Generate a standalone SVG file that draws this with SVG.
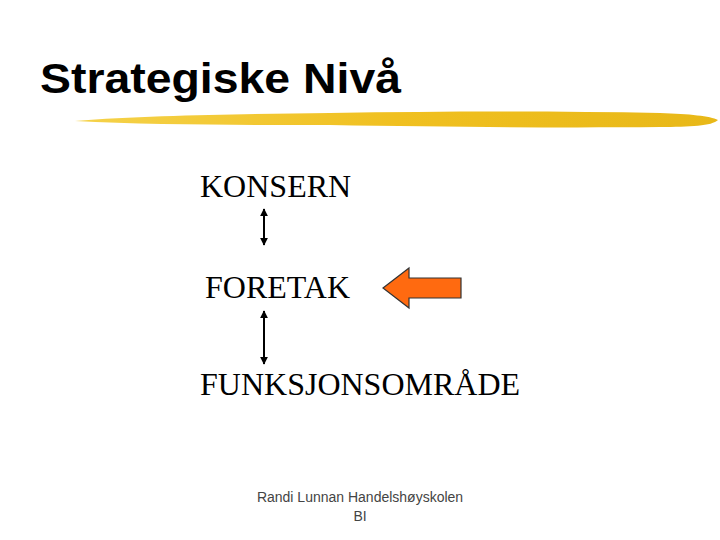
<svg xmlns="http://www.w3.org/2000/svg" width="720" height="540" viewBox="0 0 720 540">
<defs>
<style>
.title{font-family:"Liberation Sans",Arial,sans-serif;font-weight:bold;font-size:42px;fill:#000}
.node{font-family:"Liberation Serif","Times New Roman",serif;font-size:32px;fill:#000}
.foot{font-family:"Liberation Sans",Arial,sans-serif;font-size:14px;fill:#444}
.conn{stroke:#000;stroke-width:2;fill:none;marker-start:url(#ah);marker-end:url(#ah)}
</style>
<marker id="ah" viewBox="0 0 10 10" refX="9" refY="5" markerWidth="4" markerHeight="4" orient="auto-start-reverse">
<path d="M0,0 L10,5 L0,10 z" fill="#000"/>
</marker>
<linearGradient id="brush" x1="0" y1="0" x2="1" y2="0">
<stop offset="0" stop-color="#f5d24a"/>
<stop offset="0.5" stop-color="#f0c020"/>
<stop offset="1" stop-color="#e8b818"/>
</linearGradient>
</defs>
<rect width="720" height="540" fill="#fff"/>
<g id="title">
<text class="title" x="40" y="93" textLength="361" lengthAdjust="spacingAndGlyphs">Strategiske Nivå</text>
<path d="M75,121 C150,115 250,114 330,113 C450,111 560,111 660,113 C690,114 710,116 718,120 C712,126 690,127 660,127 C560,128 450,127 330,125 C250,125 150,125 75,121 z" fill="url(#brush)"/>
</g>
<g id="konsern"><text class="node" x="200" y="197">KONSERN</text></g>
<g id="foretak"><text class="node" x="205" y="298">FORETAK</text></g>
<g id="funksjonsomrade"><text class="node" x="200" y="395">FUNKSJONSOMRÅDE</text></g>
<g id="focus-arrow">
<path d="M383,288 L409,268 L409,278 L461,278 L461,298 L409,298 L409,308 z" fill="#ff6a10" stroke="#333" stroke-width="1.2"/>
</g>
<g id="connectors">
<line class="conn" x1="264" y1="209" x2="264" y2="245"/>
<line class="conn" x1="264" y1="311" x2="264" y2="364"/>
</g>
<g id="footer">
<text class="foot" x="360" y="502" text-anchor="middle">Randi Lunnan Handelshøyskolen</text>
<text class="foot" x="360" y="521" text-anchor="middle">BI</text>
</g>
</svg>
